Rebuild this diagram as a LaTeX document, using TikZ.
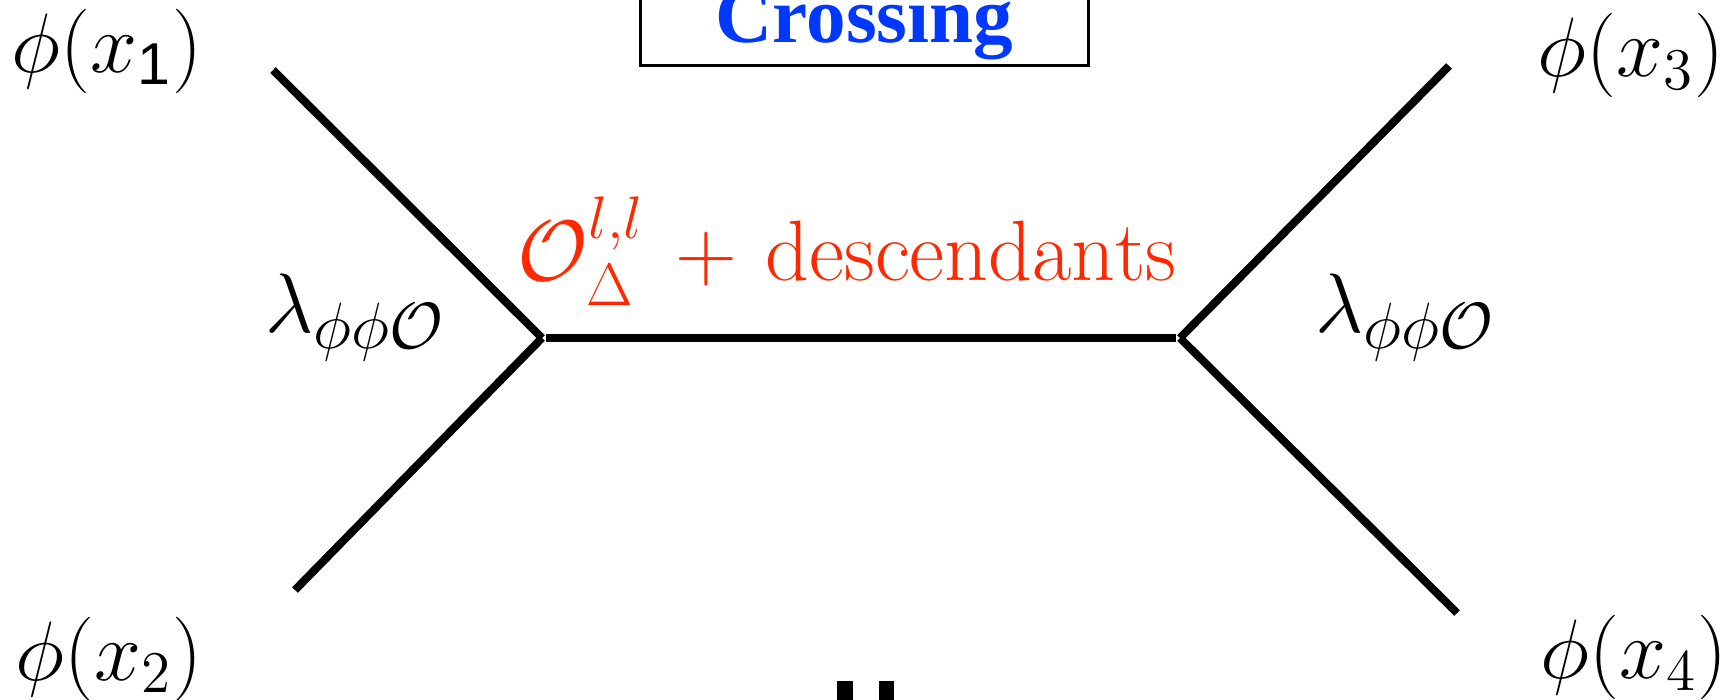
\RequirePackage{fix-cm}
\documentclass[tikz,border=0pt]{standalone}
\usepackage{fontspec}
\usepackage{amsmath}
\newfontfamily\timesbf{Liberation Serif}
\newfontfamily\helv{Liberation Sans}
\definecolor{xblue}{RGB}{0,56,255}
\definecolor{xred}{RGB}{255,40,0}
\newcommand{\bigsub}[1]{\text{\fontsize{18.6}{22}\selectfont$#1$}}
\tikzset{
  leg/.style={line width=0.08cm},
  lab/.style={inner sep=0pt, anchor=base west, font=\fontsize{24}{29}\selectfont},
  bar/.style={fill=black, draw=none}
}
\begin{document}
\begin{tikzpicture}[x=0.01cm,y=-0.01cm]
\useasboundingbox (0,0) rectangle (1724,700);
\clip (0,0) rectangle (1724,700);
% vertices and ends
\coordinate (a1) at (273,70);
\coordinate (a2) at (295,590);
\coordinate (a3) at (1449,66);
\coordinate (a4) at (1457,613);
\coordinate (vL) at (542,338);
\coordinate (vR) at (1180,338);
\coordinate (hL) at (546,338);
\coordinate (hR) at (1176,338);
\draw[leg] (a1) -- (vL);
\draw[leg] (a2) -- (vL);
\draw[leg] (hL) -- (hR);
\draw[leg] (a3) -- (vR);
\draw[leg] (a4) -- (vR);
% title box
\node[draw, line width=0.03cm, minimum width=4.48cm, minimum height=1.2cm, anchor=south west, inner sep=0pt] (box) at (639,67) {};
\node[inner sep=0pt, anchor=base west, text=xblue, font=\fontsize{22.5}{27}\selectfont\timesbf\bfseries] (title) at (715,42) {Crossing};
% labels
\node[lab] (p1) at (11,72) {$\phi(x_{\text{\helv 1}})$};
\node[lab] (p2) at (15,680) {$\phi(x_2)$};
\node[lab] (p3) at (1537,77) {$\phi(x_3)$};
\node[lab] (p4) at (1540,678) {$\phi(x_4)$};
\node[lab] (lamL) at (265,332) {$\lambda_{\bigsub{\phi\phi\mathcal{O}}}$};
\node[lab] (lamR) at (1315,332) {$\lambda_{\bigsub{\phi\phi\mathcal{O}}}$};
\node[lab, text=xred, font=\fontsize{24.4}{29}\selectfont] (op) at (517,280) {$\mathcal{O}^{l,l}_{\Delta}\mkern2.5mu+\mkern2mu\mathrm{descendants}$};
% bottom bars
\path[bar] (837,681) rectangle (853,720);
\path[bar] (879,681) rectangle (894,720);
\end{tikzpicture}
\end{document}
